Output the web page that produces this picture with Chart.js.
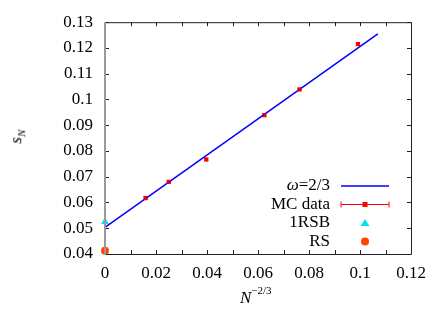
<!DOCTYPE html>
<html>
<head>
<meta charset="utf-8">
<script src="https://cdn.jsdelivr.net/npm/chart.js@4"></script>
<style>
  body { margin: 0; background: #fff; }
  #wrap { position: relative; width: 443px; height: 310px; }
  .lbl { position: absolute; font-family: "Liberation Serif", serif; color: #000; white-space: nowrap; }
</style>
</head>
<body>
<div id="wrap">
  <canvas id="sChart" width="443" height="310"></canvas>
  <div class="lbl" id="ylab" style="left:10px; top:126px; font-size:17px; transform:rotate(-90deg); transform-origin:center;"><i>s</i><sub style="font-size:11px;"><i>N</i></sub></div>
  <div class="lbl" id="xlab" style="left:240px; top:286px; font-size:17px;"><i>N</i><sup style="font-size:11px; position:relative; top:-2px;">&minus;2/3</sup></div>
</div>
<script>
// MC data points (x = N^-2/3)
const mcX = [0.0159, 0.0250, 0.0397, 0.0625, 0.0763, 0.0992];
const mcY = [0.0617, 0.0680, 0.0767, 0.0939, 0.1039, 0.1215];
const mcErr = [0.0005, 0.0005, 0.0004, 0.0005, 0.0004, 0.0005];
// fit line omega = 2/3
const fitX = [0, 0.107];
const fitY = [0.0503, 0.1255];
// theory values at N -> infinity
const rsbX = [0], rsbY = [0.0525];
const rsX = [0], rsY = [0.0413];

const legendLabels = ['\u03c9=2/3', 'MC data', '1RSB', 'RS'];
const FONT = '"Liberation Serif", serif';

const pts = (xs, ys) => xs.map((x, i) => ({ x: x, y: ys[i] }));

const frame = {
  id: 'frame',
  afterDatasetsDraw(chart) {
    const ctx = chart.ctx, a = chart.chartArea;
    const sx = chart.scales.x, sy = chart.scales.y;
    ctx.save();
    ctx.strokeStyle = '#222';
    ctx.lineWidth = 1;
    // ticks, inward on all four sides
    ctx.beginPath();
    sx.ticks.forEach(t => {
      const px = Math.round(sx.getPixelForValue(t.value)) + 0.5;
      ctx.moveTo(px, a.bottom); ctx.lineTo(px, a.bottom - 4);
      ctx.moveTo(px, a.top); ctx.lineTo(px, a.top + 4);
    });
    sy.ticks.forEach(t => {
      const py = Math.round(sy.getPixelForValue(t.value)) + 0.5;
      ctx.moveTo(a.left, py); ctx.lineTo(a.left + 4, py);
      ctx.moveTo(a.right, py); ctx.lineTo(a.right - 4, py);
    });
    ctx.stroke();
    // border
    ctx.beginPath();
    ctx.moveTo(a.left, a.top + 0.5); ctx.lineTo(a.right + 0.5, a.top + 0.5);
    ctx.lineTo(a.right + 0.5, a.bottom + 0.5); ctx.lineTo(a.left, a.bottom + 0.5);
    ctx.stroke();
    ctx.strokeStyle = '#999';
    ctx.lineWidth = 2;
    ctx.beginPath();
    ctx.moveTo(a.left, a.top); ctx.lineTo(a.left, a.bottom + 1);
    ctx.stroke();

    // error bars
    ctx.strokeStyle = '#ff0000';
    ctx.lineWidth = 1;
    mcX.forEach((x, i) => {
      const px = sx.getPixelForValue(x);
      const y1 = sy.getPixelForValue(mcY[i] - mcErr[i]);
      const y2 = sy.getPixelForValue(mcY[i] + mcErr[i]);
      ctx.beginPath();
      ctx.moveTo(px, y1); ctx.lineTo(px, y2);
      ctx.moveTo(px - 2, y1); ctx.lineTo(px + 2, y1);
      ctx.moveTo(px - 2, y2); ctx.lineTo(px + 2, y2);
      ctx.stroke();
    });

    // legend
    const tx = 330, sx0 = 341, sx1 = 389, mx = 365;
    const rows = [186, 204.5, 223, 241.5];
    ctx.fillStyle = '#000';
    ctx.textAlign = 'right';
    ctx.textBaseline = 'middle';
    ctx.font = '17px ' + FONT;
    const rest = legendLabels[0].slice(1);
    ctx.fillText(rest, tx, rows[0]);
    const w = ctx.measureText(rest).width;
    ctx.font = 'italic 17px ' + FONT;
    ctx.fillText(legendLabels[0][0], tx - w, rows[0]);
    ctx.font = '17px ' + FONT;
    for (let i = 1; i < 4; i++) ctx.fillText(legendLabels[i], tx, rows[i]);

    ctx.strokeStyle = '#0000ff';
    ctx.lineWidth = 1.5;
    ctx.beginPath(); ctx.moveTo(sx0, rows[0]); ctx.lineTo(sx1, rows[0]); ctx.stroke();

    ctx.strokeStyle = '#ff0000';
    ctx.lineWidth = 1;
    ctx.beginPath();
    ctx.moveTo(sx0, rows[1]); ctx.lineTo(sx1, rows[1]);
    ctx.moveTo(sx0, rows[1] - 3); ctx.lineTo(sx0, rows[1] + 3);
    ctx.moveTo(sx1, rows[1] - 3); ctx.lineTo(sx1, rows[1] + 3);
    ctx.stroke();
    ctx.fillStyle = '#ff0000';
    ctx.fillRect(mx - 2.5, rows[1] - 2.5, 5, 5);

    ctx.fillStyle = '#00e5ee';
    ctx.beginPath();
    ctx.moveTo(mx, rows[2] - 4); ctx.lineTo(mx + 4.5, rows[2] + 3); ctx.lineTo(mx - 4.5, rows[2] + 3);
    ctx.closePath(); ctx.fill();

    ctx.fillStyle = '#ff4500';
    ctx.beginPath(); ctx.arc(mx, rows[3], 4, 0, Math.PI * 2); ctx.fill();
    ctx.restore();
  }
};

const fmt = v => String(parseFloat(v.toFixed(2)));

new Chart(document.getElementById('sChart'), {
  type: 'scatter',
  data: {
    datasets: [
      {
        label: legendLabels[0], type: 'line', data: pts(fitX, fitY),
        borderColor: '#0000ff', borderWidth: 1.5, pointRadius: 0, fill: false, clip: false
      },
      {
        label: legendLabels[1], data: pts(mcX, mcY), pointStyle: 'rect',
        pointRadius: 3, backgroundColor: '#ff0000', borderWidth: 0, clip: false
      },
      {
        label: legendLabels[2], data: pts(rsbX, rsbY), pointStyle: 'triangle',
        pointRadius: 4.5, backgroundColor: '#00e5ee', borderWidth: 0, clip: false
      },
      {
        label: legendLabels[3], data: pts(rsX, rsY), pointStyle: 'circle',
        pointRadius: 4, backgroundColor: '#ff4500', borderWidth: 0, clip: false
      }
    ]
  },
  options: {
    responsive: false,
    animation: false,
    layout: { padding: { top: 22, right: 32, left: 0, bottom: 0 } },
    plugins: { legend: { display: false }, tooltip: { enabled: false } },
    scales: {
      x: {
        type: 'linear', min: 0, max: 0.12,
        grid: { display: false, drawTicks: false },
        border: { display: false },
        afterFit: s => { s.height = 56; },
        ticks: {
          stepSize: 0.01, padding: 9, maxRotation: 0, autoSkip: false,
          color: '#000', font: { family: FONT, size: 17 },
          callback: v => (Math.round(v * 100) % 2 === 0 ? fmt(v) : '')
        }
      },
      y: {
        type: 'linear', min: 0.04, max: 0.13,
        grid: { display: false, drawTicks: false },
        border: { display: false },
        afterFit: s => { s.width = 105; },
        ticks: {
          stepSize: 0.01, padding: 12,
          color: '#000', font: { family: FONT, size: 17 },
          callback: v => fmt(v)
        }
      }
    }
  },
  plugins: [frame]
});
</script>
</body>
</html>
